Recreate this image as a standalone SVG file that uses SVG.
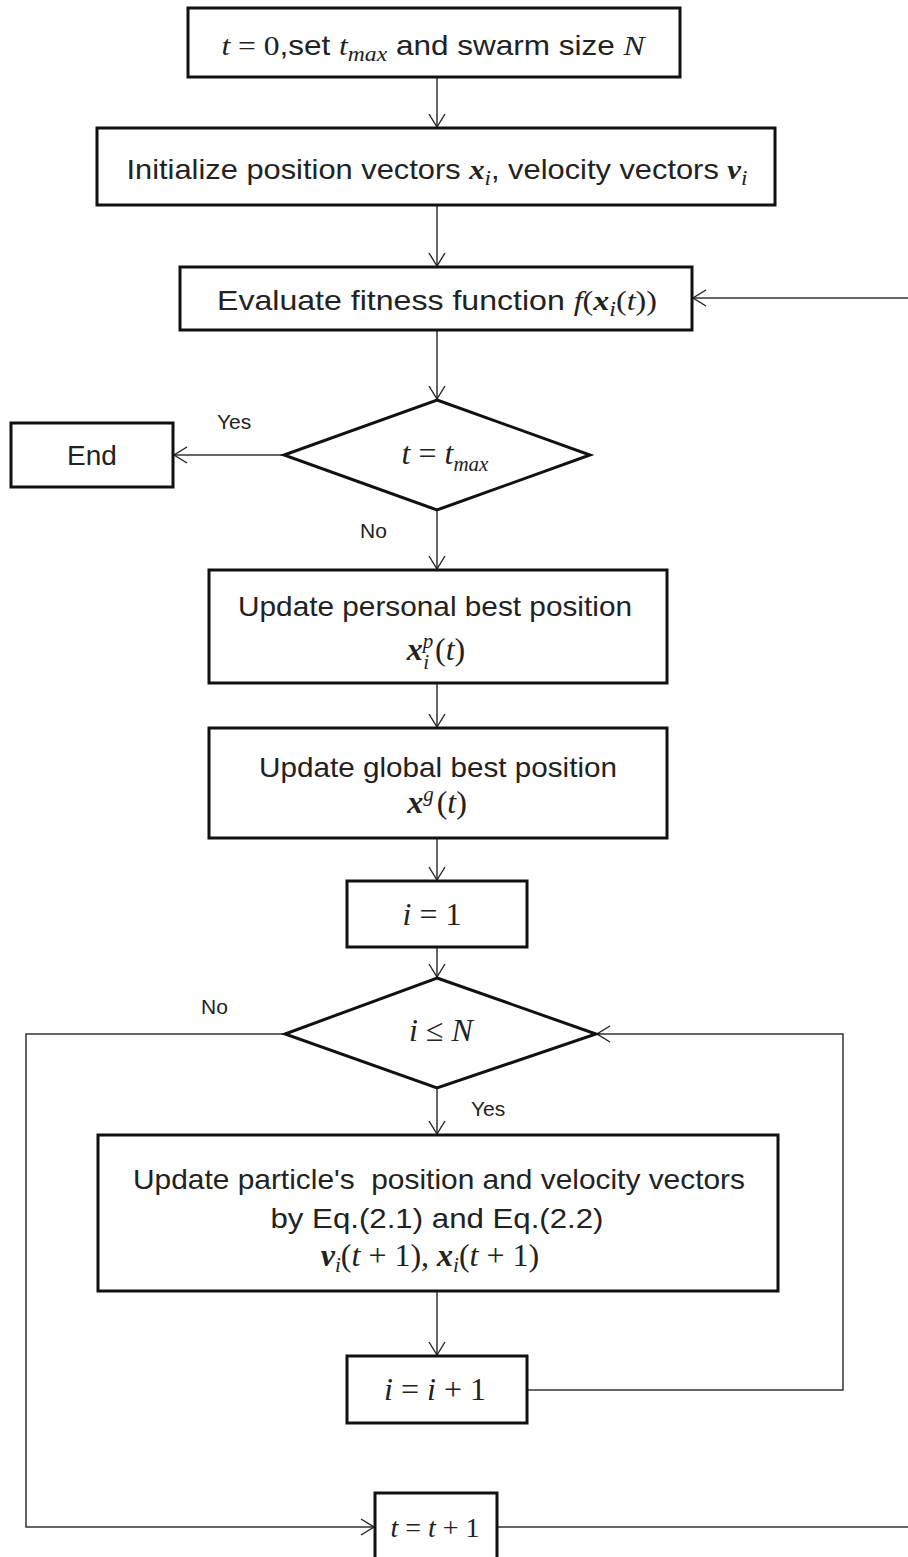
<svg xmlns="http://www.w3.org/2000/svg" width="908" height="1557" viewBox="0 0 908 1557">
<defs>
<marker id="arr" markerUnits="userSpaceOnUse" markerWidth="16" markerHeight="20" refX="14" refY="10" orient="auto">
<path d="M1,2 L14,10 L1,18" fill="none" stroke="#222" stroke-width="1.4"/>
</marker>
<style>
.box{fill:#fff;stroke:#111;stroke-width:3}
.con{fill:none;stroke:#333;stroke-width:1.5}
.t{font-family:"Liberation Sans",Arial,sans-serif;font-size:28px;fill:#222;text-anchor:middle}
.mt{font-size:32px}
.m{font-family:"Liberation Serif","Times New Roman",serif;font-style:italic}
.mr{font-family:"Liberation Serif","Times New Roman",serif;font-style:normal}
.mb{font-family:"Liberation Serif","Times New Roman",serif;font-style:italic;font-weight:bold}
.s{font-size:21px}
.lbl{font-family:"Liberation Sans",Arial,sans-serif;font-size:21px;fill:#222}
</style>
</defs>
<rect width="908" height="1557" fill="#fff"/>

<g id="connectors">
<line class="con" x1="437" y1="77" x2="437" y2="127" marker-end="url(#arr)"/>
<line class="con" x1="437" y1="205" x2="437" y2="266" marker-end="url(#arr)"/>
<line class="con" x1="437" y1="330" x2="437" y2="399" marker-end="url(#arr)"/>
<line class="con" x1="284" y1="455" x2="174" y2="455" marker-end="url(#arr)"/>
<line class="con" x1="437" y1="510" x2="437" y2="569" marker-end="url(#arr)"/>
<line class="con" x1="437" y1="683" x2="437" y2="727" marker-end="url(#arr)"/>
<line class="con" x1="437" y1="838" x2="437" y2="880" marker-end="url(#arr)"/>
<line class="con" x1="437" y1="947" x2="437" y2="977" marker-end="url(#arr)"/>
<line class="con" x1="437" y1="1088" x2="437" y2="1134" marker-end="url(#arr)"/>
<line class="con" x1="437" y1="1291" x2="437" y2="1355" marker-end="url(#arr)"/>
<polyline class="con" points="527,1390 843,1390 843,1034 597,1034" marker-end="url(#arr)"/>
<polyline class="con" points="285,1034 26,1034 26,1527 374,1527" marker-end="url(#arr)"/>
<line class="con" x1="497" y1="1527" x2="908" y2="1527"/>
<line class="con" x1="910" y1="298" x2="693" y2="298" marker-end="url(#arr)"/>
<text class="lbl" x="217" y="429">Yes</text>
<text class="lbl" x="360" y="538">No</text>
<text class="lbl" x="201" y="1014">No</text>
<text class="lbl" x="471" y="1116">Yes</text>
</g>

<g id="init">
<rect class="box" x="188" y="8" width="492" height="69"/>
<text class="t" x="433" y="55" textLength="423" lengthAdjust="spacingAndGlyphs"><tspan class="m">t</tspan><tspan class="mr"> = 0</tspan>,set <tspan class="m">t</tspan><tspan class="m s" dy="6">max</tspan><tspan dy="-6"> and swarm size </tspan><tspan class="m">N</tspan></text>
</g>

<g id="initialize">
<rect class="box" x="97" y="128" width="678" height="77"/>
<text class="t" x="437" y="179" textLength="621" lengthAdjust="spacingAndGlyphs">Initialize position vectors <tspan class="mb">x</tspan><tspan class="m s" dy="6">i</tspan><tspan dy="-6">, velocity vectors </tspan><tspan class="mb">v</tspan><tspan class="m s" dy="6">i</tspan></text>
</g>

<g id="evaluate">
<rect class="box" x="180" y="267" width="512" height="63"/>
<text class="t" x="437" y="310" textLength="440" lengthAdjust="spacingAndGlyphs">Evaluate fitness function <tspan class="m">f</tspan><tspan class="mr">(</tspan><tspan class="mb">x</tspan><tspan class="m s" dy="6">i</tspan><tspan class="mr" dy="-6">(</tspan><tspan class="m">t</tspan><tspan class="mr">))</tspan></text>
</g>

<g id="check-tmax">
<polygon class="box" points="437,400 590,455 437,510 284,455"/>
<text class="t mt" x="445" y="464"><tspan class="m">t</tspan><tspan class="mr"> = </tspan><tspan class="m">t</tspan><tspan class="m s" dy="7">max</tspan></text>
</g>

<g id="end">
<rect class="box" x="11" y="423" width="162" height="64"/>
<text class="t" x="92" y="465">End</text>
</g>

<g id="personal-best">
<rect class="box" x="209" y="570" width="458" height="113"/>
<text class="t" x="435" y="616" textLength="394" lengthAdjust="spacingAndGlyphs">Update personal best position</text>
<text class="t mt" x="436" y="660"><tspan class="mb">x</tspan><tspan class="m s" dy="-12">p</tspan><tspan class="m s" dx="-10" dy="21">i</tspan><tspan class="mr" dx="6" dy="-9">(</tspan><tspan class="m">t</tspan><tspan class="mr">)</tspan></text>
</g>

<g id="global-best">
<rect class="box" x="209" y="728" width="458" height="110"/>
<text class="t" x="438" y="777" textLength="358" lengthAdjust="spacingAndGlyphs">Update global best position</text>
<text class="t mt" x="437" y="813"><tspan class="mb">x</tspan><tspan class="m s" dy="-12">g</tspan><tspan class="mr" dx="3" dy="12">(</tspan><tspan class="m">t</tspan><tspan class="mr">)</tspan></text>
</g>

<g id="i-init">
<rect class="box" x="347" y="881" width="180" height="66"/>
<text class="t mt" x="432" y="925"><tspan class="m">i</tspan><tspan class="mr"> = 1</tspan></text>
</g>

<g id="check-i">
<polygon class="box" points="437,978 596,1034 437,1088 285,1034"/>
<text class="t mt" x="441" y="1041"><tspan class="m">i</tspan><tspan class="mr"> ≤ </tspan><tspan class="m">N</tspan></text>
</g>

<g id="update-particle">
<rect class="box" x="98" y="1135" width="680" height="156"/>
<text class="t" x="439" y="1189" textLength="612" lengthAdjust="spacingAndGlyphs">Update particle's&#160; position and velocity vectors</text>
<text class="t" x="437" y="1228" textLength="333" lengthAdjust="spacingAndGlyphs">by Eq.(2.1) and Eq.(2.2)</text>
<text class="t mt" x="430" y="1266"><tspan class="mb">v</tspan><tspan class="m s" dy="6">i</tspan><tspan class="mr" dy="-6">(</tspan><tspan class="m">t</tspan><tspan class="mr"> + 1), </tspan><tspan class="mb">x</tspan><tspan class="m s" dy="6">i</tspan><tspan class="mr" dy="-6">(</tspan><tspan class="m">t</tspan><tspan class="mr"> + 1)</tspan></text>
</g>

<g id="i-inc">
<rect class="box" x="347" y="1356" width="180" height="67"/>
<text class="t mt" x="435" y="1400"><tspan class="m">i</tspan><tspan class="mr"> = </tspan><tspan class="m">i</tspan><tspan class="mr"> + 1</tspan></text>
</g>

<g id="t-inc">
<rect class="box" x="375" y="1493" width="122" height="70"/>
<text class="t" x="435" y="1537"><tspan class="m">t</tspan><tspan class="mr"> = </tspan><tspan class="m">t</tspan><tspan class="mr"> + 1</tspan></text>
</g>
</svg>
